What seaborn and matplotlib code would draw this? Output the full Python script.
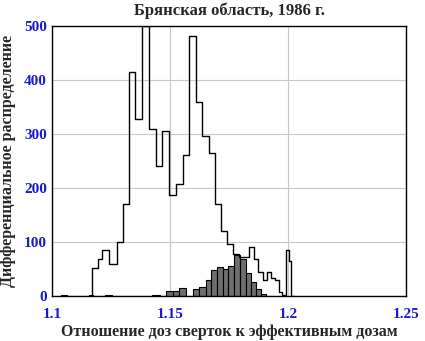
import numpy as np
import pandas as pd
import matplotlib
matplotlib.use("Agg")
import matplotlib.pyplot as plt
import seaborn as sns

# step histogram (all doses) - bin edges and counts
step_edges = [1.11585, 1.11685, 1.11915, 1.12110, 1.12396, 1.12723, 1.13006,
              1.13262, 1.13517, 1.13789, 1.14111, 1.14396, 1.14664, 1.14962,
              1.15247, 1.15523, 1.15813, 1.16077, 1.16366, 1.16651, 1.16885,
              1.17162, 1.17413, 1.17668, 1.17906, 1.18332, 1.18553, 1.18723,
              1.18915, 1.19085, 1.19255, 1.19438, 1.19609, 1.19753, 1.19923,
              1.20034, 1.20136, 1.20236]
step_counts = [0, 52, 69, 86, 59, 100, 170, 415, 327, 500, 309, 241, 305,
               187, 208, 260, 481, 359, 296, 264, 170, 120, 97, 77, 73, 90,
               68, 44, 29, 44, 34, 29, 7, 1, 85, 64, 0]

# filled bars (second group)
bar_edges = [1.1035, 1.1060, 1.1155, 1.1170, 1.1223, 1.1254, 1.1422, 1.1457,
             1.1483, 1.1510, 1.1538, 1.1568, 1.1595, 1.1623, 1.1651, 1.1672,
             1.1698, 1.1723, 1.1747, 1.1772, 1.1794, 1.1820, 1.1843, 1.1863,
             1.1884, 1.1907, 1.1926]
bar_counts = [2, 0, 2, 0, 2, 0, 2, 0, 10, 10, 15, 0, 13, 16, 30, 48, 54, 50,
              56, 76, 69, 43, 25, 13, 4, 0]

x_ticks = [1.1, 1.15, 1.2, 1.25]
y_ticks = [0, 100, 200, 300, 400, 500]

sns.set_style("white")
plt.rcParams['font.family'] = ['Liberation Serif', 'DejaVu Serif']

fig = plt.figure(figsize=(4.25, 3.41), dpi=100)
ax = fig.add_axes([0.1235, 0.132, 0.8315, 0.7926])

bc = [(a + b) / 2 for a, b in zip(bar_edges[:-1], bar_edges[1:])]
sc = [(a + b) / 2 for a, b in zip(step_edges[:-1], step_edges[1:])]

sns.histplot(x=bc, weights=bar_counts, bins=bar_edges, element="bars",
             color="#6e6e6e", edgecolor="black", linewidth=0.8, alpha=1, ax=ax)
sns.histplot(x=sc, weights=step_counts, bins=step_edges, element="step",
             fill=False, color="black", linewidth=1.0, ax=ax)

ax.set_xlim(1.1, 1.25)
ax.set_ylim(0, 500)
ax.set_xticks(x_ticks)
ax.set_xticklabels([str(t) for t in x_ticks])
ax.set_yticks(y_ticks)
ax.grid(True, color="#c8c8c8", linewidth=0.8)
ax.set_axisbelow(True)
ax.tick_params(length=0, labelsize=11, labelcolor="#1a1acc")
ax.tick_params(axis="x", pad=9)
ax.tick_params(axis="y", pad=4)
for lab in ax.get_xticklabels() + ax.get_yticklabels():
    lab.set_fontweight("bold")
for s in ax.spines.values():
    s.set_color("black")
    s.set_linewidth(1.0)

ax.set_title("Брянская область, 1986 г.", fontsize=12, fontweight="bold", pad=8)
ax.set_xlabel("Отношение доз сверток к эффективным дозам", fontsize=11.5,
              fontweight="bold", labelpad=2)
ax.set_ylabel("Дифференциальное распределение", fontsize=11.5,
              fontweight="bold", labelpad=6)

fig.savefig("out.png", dpi=100)
